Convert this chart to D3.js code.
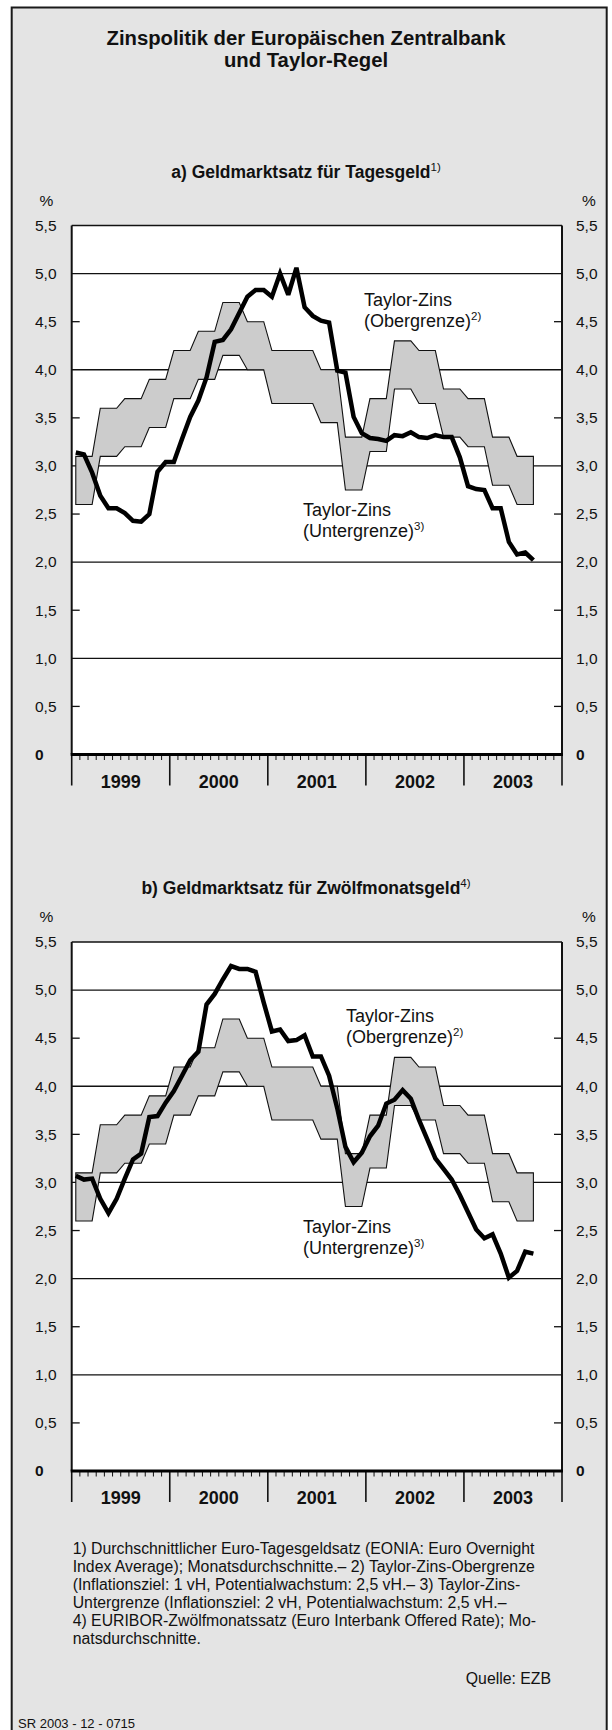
<!DOCTYPE html>
<html>
<head>
<meta charset="utf-8">
<script src="https://cdn.jsdelivr.net/npm/d3@7"></script>
<style>
  body { margin: 0; background: #fff; }
  svg { display: block; }
  text { font-family: "Liberation Sans", Arial, Helvetica, sans-serif; fill: #111; }
</style>
</head>
<body>
<svg id="chart" width="612" height="1730"></svg>
<script>
// ---- data -------------------------------------------------------------
const years = ["1999", "2000", "2001", "2002", "2003"];
const yTickValues = [0, 0.5, 1, 1.5, 2, 2.5, 3, 3.5, 4, 4.5, 5, 5.5];
const yTickLabels = ["0", "0,5", "1,0", "1,5", "2,0", "2,5", "3,0", "3,5", "4,0", "4,5", "5,0", "5,5"];

// Taylor rate band, monthly points Jan 1999 – Sep 2003 (quarterly steps)
const taylorUpper = [
  3.1, 3.1, 3.1, 3.6, 3.6, 3.6, 3.7, 3.7, 3.7, 3.9, 3.9, 3.9,
  4.2, 4.2, 4.2, 4.4, 4.4, 4.4, 4.7, 4.7, 4.7, 4.5, 4.5, 4.5,
  4.2, 4.2, 4.2, 4.2, 4.2, 4.2, 4.0, 4.0, 4.0, 3.3, 3.3, 3.3,
  3.7, 3.7, 3.7, 4.3, 4.3, 4.3, 4.2, 4.2, 4.2, 3.8, 3.8, 3.8,
  3.7, 3.7, 3.7, 3.3, 3.3, 3.3, 3.1, 3.1, 3.1
];
const taylorLower = [
  2.6, 2.6, 2.6, 3.1, 3.1, 3.1, 3.2, 3.2, 3.2, 3.4, 3.4, 3.4,
  3.7, 3.7, 3.7, 3.9, 3.9, 3.9, 4.15, 4.15, 4.15, 4.0, 4.0, 4.0,
  3.65, 3.65, 3.65, 3.65, 3.65, 3.65, 3.45, 3.45, 3.45, 2.75, 2.75, 2.75,
  3.15, 3.15, 3.15, 3.8, 3.8, 3.8, 3.65, 3.65, 3.65, 3.3, 3.3, 3.3,
  3.2, 3.2, 3.2, 2.8, 2.8, 2.8, 2.6, 2.6, 2.6
];

// EONIA, monthly averages Jan 1999 – Sep 2003
const eonia = [
  3.14, 3.12, 2.93, 2.69, 2.56, 2.56, 2.51, 2.43, 2.42, 2.50, 2.94, 3.04,
  3.04, 3.28, 3.51, 3.68, 3.92, 4.29, 4.31, 4.42, 4.59, 4.76, 4.83, 4.83,
  4.76, 5.00, 4.78, 5.06, 4.65, 4.56, 4.51, 4.49, 3.99, 3.97, 3.51, 3.34,
  3.29, 3.28, 3.26, 3.32, 3.31, 3.35, 3.30, 3.29, 3.32, 3.30, 3.30, 3.09,
  2.79, 2.76, 2.75, 2.56, 2.56, 2.21, 2.08, 2.10, 2.02
];

// 12-month EURIBOR, monthly averages Jan 1999 – Sep 2003
const euribor12 = [
  3.07, 3.03, 3.04, 2.83, 2.68, 2.83, 3.04, 3.24, 3.30, 3.68, 3.69, 3.83,
  3.95, 4.11, 4.27, 4.36, 4.85, 4.96, 5.11, 5.25, 5.22, 5.22, 5.19, 4.87,
  4.57, 4.59, 4.47, 4.48, 4.53, 4.31, 4.31, 4.11, 3.77, 3.37, 3.21, 3.31,
  3.48, 3.59, 3.82, 3.86, 3.96, 3.87, 3.65, 3.45, 3.25, 3.14, 3.03, 2.87,
  2.69, 2.51, 2.42, 2.46, 2.26, 2.01, 2.08, 2.28, 2.26
];

const footnotes = [
  "1) Durchschnittlicher Euro-Tagesgeldsatz (EONIA: Euro Overnight",
  "Index Average); Monatsdurchschnitte.\u2013 2) Taylor-Zins-Obergrenze",
  "(Inflationsziel: 1 vH, Potentialwachstum: 2,5 vH.\u2013 3) Taylor-Zins-",
  "Untergrenze (Inflationsziel: 2 vH, Potentialwachstum: 2,5 vH.\u2013",
  "4) EURIBOR-Zw\u00f6lfmonatssatz (Euro Interbank Offered Rate); Mo-",
  "natsdurchschnitte."
];

// ---- layout -------------------------------------------------------------
const svg = d3.select("#chart");
const W = 612;
const plotLeft = 71.7, plotRight = 562;
const x = d3.scaleLinear().domain([0, 60]).range([plotLeft, plotRight]);

// outer frame
svg.append("rect")
  .attr("x", 11.7).attr("y", 7.5)
  .attr("width", 595).attr("height", 1760)
  .attr("fill", "#e4e4e4")
  .attr("stroke", "#1a1a1a").attr("stroke-width", 2);

// main title
const title = svg.append("text")
  .attr("text-anchor", "middle")
  .style("font-weight", "bold").style("font-size", "20.3px");
title.append("tspan").attr("x", W / 2).attr("y", 44.5).text("Zinspolitik der Europ\u00e4ischen Zentralbank");
title.append("tspan").attr("x", W / 2).attr("y", 67).text("und Taylor-Regel");

function sup(textSel, s) {
  textSel.append("tspan").attr("dy", -7).style("font-size", "11.5px")
    .style("font-weight", "normal").text(s);
}

function drawPanel(cfg) {
  const g = svg.append("g");
  const y = d3.scaleLinear().domain([0, 5.5]).range([cfg.yZero, cfg.yTop]);

  // plot background
  g.append("rect")
    .attr("x", plotLeft).attr("y", cfg.yTop)
    .attr("width", plotRight - plotLeft).attr("height", cfg.yZero - cfg.yTop)
    .attr("fill", "#fff");

  // integer gridlines
  g.selectAll("line.grid").data([1, 2, 3, 4, 5]).join("line")
    .attr("x1", plotLeft).attr("x2", plotRight)
    .attr("y1", d => y(d)).attr("y2", d => y(d))
    .attr("stroke", "#111").attr("stroke-width", 1.3);

  // half-step inner ticks on both sides
  const half = [0.5, 1.5, 2.5, 3.5, 4.5];
  g.selectAll("line.tl").data(half).join("line")
    .attr("x1", plotLeft).attr("x2", plotLeft + 8)
    .attr("y1", d => y(d)).attr("y2", d => y(d))
    .attr("stroke", "#111").attr("stroke-width", 1.3);
  g.selectAll("line.tr").data(half).join("line")
    .attr("x1", plotRight - 8).attr("x2", plotRight)
    .attr("y1", d => y(d)).attr("y2", d => y(d))
    .attr("stroke", "#111").attr("stroke-width", 1.3);

  // Taylor band
  const area = d3.area()
    .x((d, i) => x(i + 0.5))
    .y0((d, i) => y(taylorLower[i]))
    .y1(d => y(d));
  g.append("path").datum(taylorUpper)
    .attr("d", area)
    .attr("fill", "#cccccc")
    .attr("stroke", "#111").attr("stroke-width", 1.1)
    .attr("stroke-linejoin", "miter");

  // money market rate
  const line = d3.line().x((d, i) => x(i + 0.5)).y(d => y(d));
  g.append("path").datum(cfg.series)
    .attr("d", line)
    .attr("fill", "none")
    .attr("stroke", "#000").attr("stroke-width", 4.5)
    .attr("stroke-linejoin", "miter").attr("stroke-miterlimit", 3);

  // plot borders
  g.append("line").attr("x1", plotLeft).attr("x2", plotRight)
    .attr("y1", cfg.yTop).attr("y2", cfg.yTop)
    .attr("stroke", "#111").attr("stroke-width", 1.4);
  g.append("line").attr("x1", plotLeft).attr("x2", plotLeft)
    .attr("y1", cfg.yTop).attr("y2", cfg.yZero)
    .attr("stroke", "#111").attr("stroke-width", 2);
  g.append("line").attr("x1", plotRight).attr("x2", plotRight)
    .attr("y1", cfg.yTop).attr("y2", cfg.yZero)
    .attr("stroke", "#111").attr("stroke-width", 2);

  // month ticks and year separators
  const months = d3.range(1, 60).filter(m => m % 12 !== 0);
  g.selectAll("line.mt").data(months).join("line")
    .attr("x1", d => x(d)).attr("x2", d => x(d))
    .attr("y1", cfg.yZero).attr("y2", cfg.yZero + 5.5)
    .attr("stroke", "#111").attr("stroke-width", 1);
  g.selectAll("line.yt").data(d3.range(0, 61, 12)).join("line")
    .attr("x1", d => x(d)).attr("x2", d => x(d))
    .attr("y1", cfg.yZero).attr("y2", cfg.yZero + 31)
    .attr("stroke", "#111").attr("stroke-width", 1.6);
  g.append("line").attr("x1", plotLeft - 1).attr("x2", plotRight + 1)
    .attr("y1", cfg.yZero).attr("y2", cfg.yZero)
    .attr("stroke", "#000").attr("stroke-width", 3);

  // year labels
  g.selectAll("text.yr").data(years).join("text")
    .attr("x", (d, i) => x(i * 12 + 6)).attr("y", cfg.yZero + 33)
    .attr("text-anchor", "middle")
    .style("font-weight", "bold").style("font-size", "18px")
    .text(d => d);

  // value labels, both sides
  [35, 576].forEach(lx => {
    g.selectAll(null).data(yTickValues).join("text")
      .attr("x", lx).attr("y", d => y(d) + 5.3)
      .style("font-size", "15.5px")
      .style("font-weight", d => d === 0 ? "bold" : "normal")
      .text((d, i) => yTickLabels[i]);
  });
  g.append("text").attr("x", 46.5).attr("y", cfg.yTop - 20)
    .attr("text-anchor", "middle").style("font-size", "15.5px").text("%");
  g.append("text").attr("x", 589).attr("y", cfg.yTop - 20)
    .attr("text-anchor", "middle").style("font-size", "15.5px").text("%");

  // panel title
  const pt = g.append("text").attr("x", W / 2).attr("y", cfg.yTop - 48)
    .attr("text-anchor", "middle")
    .style("font-weight", "bold").style("font-size", "17.5px");
  pt.append("tspan").text(cfg.title);
  sup(pt, cfg.titleNote);

  // band annotations
  const up = g.append("text").style("font-size", "18px");
  up.append("tspan").attr("x", cfg.upper[0]).attr("y", cfg.upper[1]).text("Taylor-Zins");
  up.append("tspan").attr("x", cfg.upper[0]).attr("y", cfg.upper[1] + 21).text("(Obergrenze)");
  sup(up, "2)");
  const lo = g.append("text").style("font-size", "18px");
  lo.append("tspan").attr("x", cfg.lower[0]).attr("y", cfg.lower[1]).text("Taylor-Zins");
  lo.append("tspan").attr("x", cfg.lower[0]).attr("y", cfg.lower[1] + 21).text("(Untergrenze)");
  sup(lo, "3)");
}

drawPanel({
  yTop: 225.5, yZero: 754.5, series: eonia,
  title: "a) Geldmarktsatz f\u00fcr Tagesgeld", titleNote: "1)",
  upper: [364, 306], lower: [303, 515.5]
});
drawPanel({
  yTop: 942, yZero: 1471, series: euribor12,
  title: "b) Geldmarktsatz f\u00fcr Zw\u00f6lfmonatsgeld", titleNote: "4)",
  upper: [346, 1022], lower: [303, 1233]
});

// footnotes
svg.append("g").selectAll("text").data(footnotes).join("text")
  .attr("x", 72.7).attr("y", (d, i) => 1553.5 + i * 18)
  .style("font-size", "15.8px")
  .text(d => d);
svg.append("text").attr("x", 551).attr("y", 1684)
  .attr("text-anchor", "end").style("font-size", "15.8px").text("Quelle: EZB");
svg.append("text").attr("x", 18).attr("y", 1727.5)
  .style("font-size", "13px").text("SR 2003 - 12 - 0715");
</script>
</body>
</html>
